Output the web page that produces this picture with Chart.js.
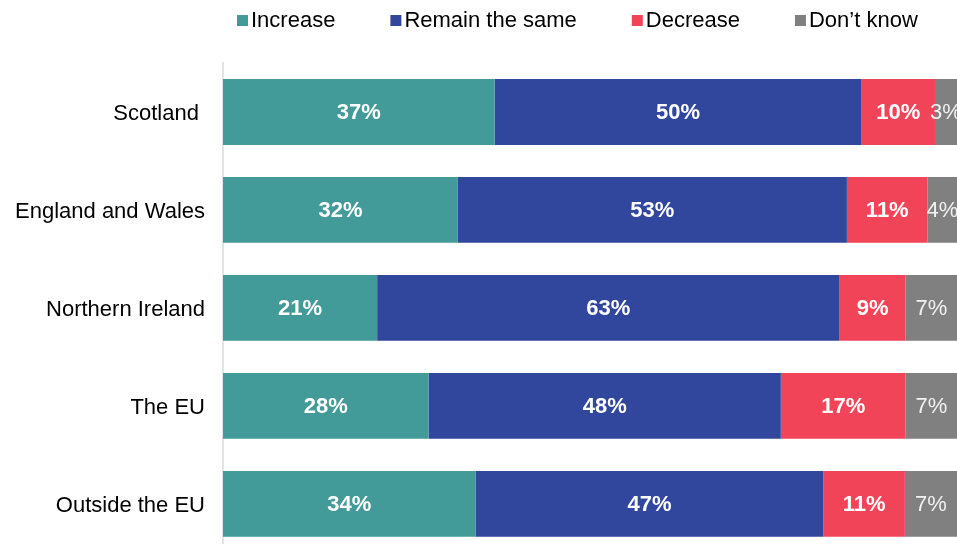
<!DOCTYPE html>
<html>
<head>
<meta charset="utf-8">
<script src="https://cdn.jsdelivr.net/npm/chart.js@4.4.1/dist/chart.umd.min.js"></script>
<style>
  html, body { margin: 0; padding: 0; background: #fff; overflow: hidden; }
  #wrap { width: 957px; height: 544px; overflow: hidden; }
</style>
</head>
<body>
<div id="wrap"><canvas id="barChart" width="957" height="584"></canvas></div>
<script>
// categories and series (percent of respondents)
var categories = ["Scotland ", "England and Wales", "Northern Ireland", "The EU", "Outside the EU"];
var increase = [37, 32, 21, 28, 34.4];
var remainSame = [50, 53, 63, 48, 47.4];
var decrease = [10, 11, 9, 17, 11.1];
var dontKnow = [3, 4, 7, 7, 7.1];
var seriesNames = ["Increase", "Remain the same", "Decrease", "Don\u2019t know"];
var seriesColors = ["#429a99", "#31479e", "#f24458", "#808080"];

var fontFamily = "'Liberation Sans', Arial, sans-serif";

// labels inside each bar segment
var barLabels = {
  id: "barLabels",
  afterDatasetsDraw: function (chart) {
    var ctx = chart.ctx;
    ctx.save();
    ctx.textAlign = "center";
    ctx.textBaseline = "middle";
    chart.data.datasets.forEach(function (ds, i) {
      var meta = chart.getDatasetMeta(i);
      meta.data.forEach(function (bar, j) {
        var cx = (bar.x + bar.base) / 2;
        ctx.font = (i === 3 ? "normal " : "bold ") + "22px " + fontFamily;
        ctx.fillStyle = i === 3 ? "#f2f2f2" : "#ffffff";
        ctx.fillText(Math.round(ds.data[j]) + "%", cx, bar.y + 1);
      });
    });
    ctx.restore();
  }
};

// legend drawn by hand so spacing matches the original
var topLegend = {
  id: "topLegend",
  afterDraw: function (chart) {
    var ctx = chart.ctx;
    ctx.save();
    ctx.font = "22px " + fontFamily;
    ctx.textBaseline = "middle";
    ctx.textAlign = "left";
    var x = 237;
    var y = 20;
    chart.data.datasets.forEach(function (ds) {
      ctx.fillStyle = ds.backgroundColor;
      ctx.fillRect(x, y - 5, 11, 11);
      x += 14;
      ctx.fillStyle = "#000000";
      ctx.fillText(ds.label, x, y + 1);
      x += ctx.measureText(ds.label).width + 55;
    });
    ctx.restore();
  }
};

var seriesData = [increase, remainSame, decrease, dontKnow];
var datasets = seriesData.map(function (d, i) {
  return {
    label: seriesNames[i],
    data: d,
    backgroundColor: seriesColors[i],
    borderWidth: 0,
    barPercentage: 0.672,
    categoryPercentage: 1.0
  };
});

new Chart(document.getElementById("barChart"), {
  type: "bar",
  data: { labels: categories, datasets: datasets },
  options: {
    indexAxis: "y",
    responsive: false,
    animation: false,
    layout: { padding: { top: 63, bottom: 2, left: 0, right: 0 } },
    plugins: {
      legend: { display: false },
      tooltip: { enabled: false }
    },
    scales: {
      x: { stacked: true, min: 0, max: 100, display: false },
      y: {
        stacked: true,
        grid: { display: false, drawTicks: false },
        border: { display: true, color: "#e3e3e3", width: 2 },
        ticks: {
          color: "#000000",
          padding: 18,
          labelOffset: 2,
          font: { family: fontFamily, size: 22 }
        },
        afterFit: function (scale) { scale.width = 223; }
      }
    }
  },
  plugins: [barLabels, topLegend]
});
</script>
</body>
</html>
